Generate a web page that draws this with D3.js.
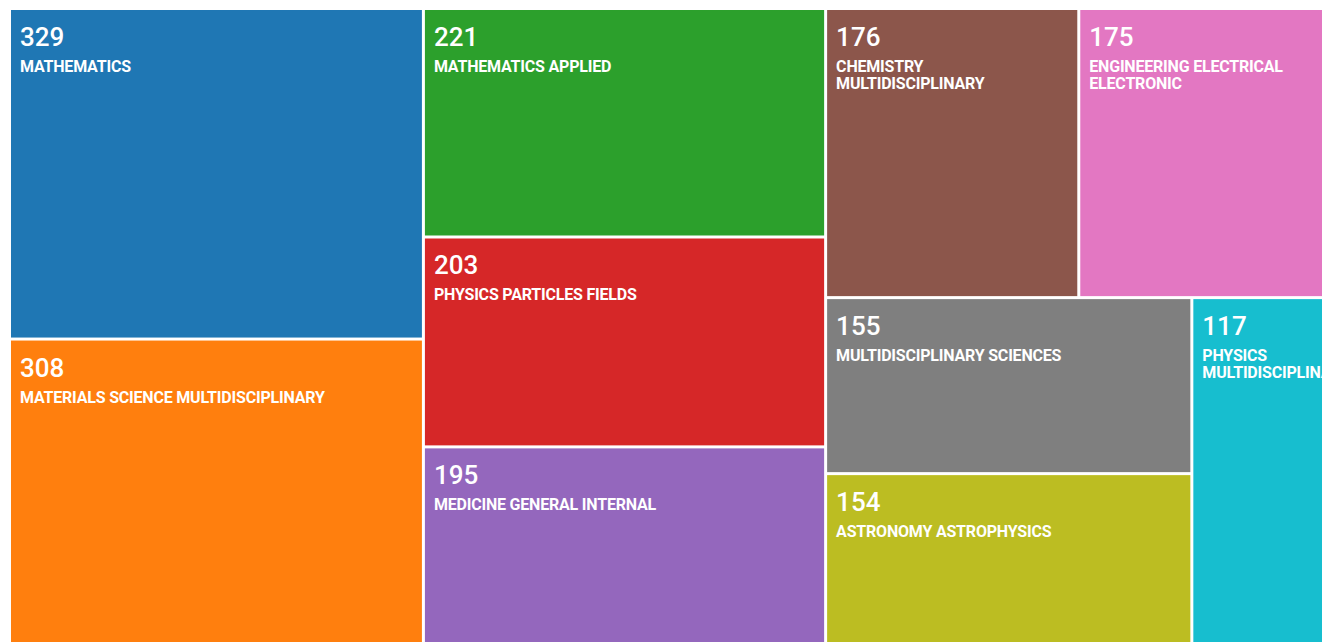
<!DOCTYPE html>
<html>
<head>
<meta charset="utf-8">
<script src="https://cdn.jsdelivr.net/npm/d3@7"></script>
<style>
  html, body { margin: 0; padding: 0; background: #fff; overflow: hidden; }
  svg { display: block; }
</style>
</head>
<body>
<div id="chart"></div>
<script>
const categories = [
  "MATHEMATICS",
  "MATERIALS SCIENCE MULTIDISCIPLINARY",
  "MATHEMATICS APPLIED",
  "PHYSICS PARTICLES FIELDS",
  "MEDICINE GENERAL INTERNAL",
  "CHEMISTRY MULTIDISCIPLINARY",
  "ENGINEERING ELECTRICAL ELECTRONIC",
  "MULTIDISCIPLINARY SCIENCES",
  "ASTRONOMY ASTROPHYSICS",
  "PHYSICS MULTIDISCIPLINARY"
];
const counts = [329, 308, 221, 203, 195, 176, 175, 155, 154, 117];
const colours = d3.schemeCategory10;

const width = 1322;
const height = 642;
const margin = {top: 10, left: 11};
// the map runs a little past the right and bottom edge of the window
const mapWidth = 1318;
const mapHeight = 637;

const svg = d3.select("#chart").append("svg")
  .attr("width", width)
  .attr("height", height);

const root = d3.hierarchy({children: categories.map((name, i) => ({name, value: counts[i], index: i}))})
  .sum(d => d.value || 0)
  .sort((a, b) => b.value - a.value);

d3.treemap()
  .tile(d3.treemapSquarify)
  .size([mapWidth, mapHeight])
  .paddingInner(3)
  (root);

const g = svg.append("g")
  .attr("transform", `translate(${margin.left},${margin.top})`);

const leaf = g.selectAll("g")
  .data(root.leaves())
  .join("g")
  .attr("transform", d => `translate(${d.x0},${d.y0})`);

leaf.append("clipPath")
  .attr("id", (d, i) => "clip" + i)
  .append("rect")
  .attr("width", d => d.x1 - d.x0)
  .attr("height", d => d.y1 - d.y0);

leaf.append("rect")
  .attr("width", d => d.x1 - d.x0)
  .attr("height", d => d.y1 - d.y0)
  .attr("fill", d => colours[d.data.index]);

const txt = leaf.append("g")
  .attr("clip-path", (d, i) => `url(#clip${i})`);

txt.append("text")
  .attr("x", 9)
  .attr("y", 36)
  .attr("fill", "#fff")
  .attr("font-family", "Roboto, 'Open Sans', sans-serif")
  .attr("font-weight", 500)
  .attr("font-size", 26)
  .text(d => d.value);

// label, wrapped word by word to the tile width (long single words get clipped, like the original)
txt.append("text")
  .attr("x", 9)
  .attr("y", 62)
  .attr("fill", "#fff")
  .attr("font-family", "Roboto, 'Open Sans', sans-serif")
  .attr("font-weight", 700)
  .attr("font-size", 16)
  .attr("letter-spacing", -0.2)
  .each(function(d) {
    const el = d3.select(this);
    const maxW = d.x1 - d.x0 - 20;
    const words = d.data.name.split(" ");
    let line = [];
    let tspan = el.append("tspan").attr("x", 9).attr("dy", 0);
    words.forEach(w => {
      line.push(w);
      tspan.text(line.join(" "));
      if (tspan.node().getComputedTextLength() > maxW && line.length > 1) {
        line.pop();
        tspan.text(line.join(" "));
        line = [w];
        tspan = el.append("tspan").attr("x", 9).attr("dy", 17).text(w);
      }
    });
  });
</script>
</body>
</html>
